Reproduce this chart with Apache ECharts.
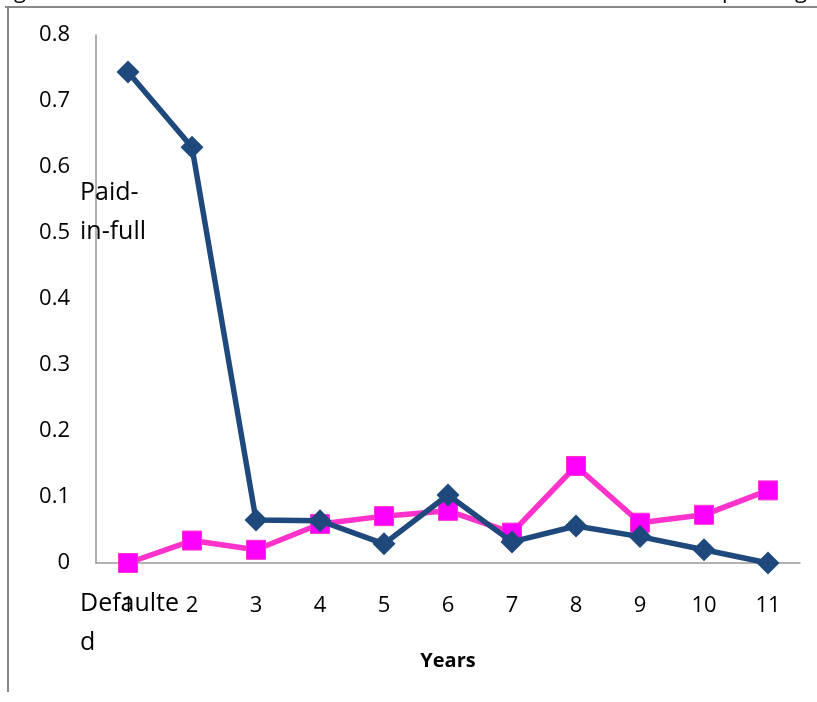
<!DOCTYPE html>
<html>
<head>
<meta charset="utf-8">
<script src="https://cdn.jsdelivr.net/npm/echarts@6/dist/echarts.min.js"></script>
<style>
html,body{margin:0;padding:0;background:#fff;}
#chart{width:817px;height:702px;}
</style>
</head>
<body>
<div id="chart"></div>
<script>
var years = ['1','2','3','4','5','6','7','8','9','10','11'];
var paidInFull = [0.744, 0.630, 0.065, 0.064, 0.029, 0.103, 0.032, 0.056, 0.040, 0.020, 0.0];
var defaulted = [0.0, 0.034, 0.020, 0.059, 0.071, 0.079, 0.046, 0.147, 0.061, 0.073, 0.110];
var yTicks = { min: 0, max: 0.8, interval: 0.1 };

var FONT = '"Open Sans", "Noto Sans", sans-serif';
var chart = echarts.init(document.getElementById('chart'));
chart.setOption({
  backgroundColor: '#fff',
  animation: false,
  grid: { left: 96, top: 35, width: 704, height: 528 },
  xAxis: {
    type: 'category',
    data: years,
    boundaryGap: true,
    name: 'Years',
    nameLocation: 'middle',
    nameGap: 88,
    nameTextStyle: { fontFamily: FONT, fontSize: 20, fontWeight: 'bold', color: '#000' },
    axisLine: { lineStyle: { color: '#999', width: 1.5 } },
    axisTick: { show: false },
    axisLabel: { margin: 32, fontFamily: FONT, fontSize: 22, color: '#000' },
    splitLine: { show: false }
  },
  yAxis: {
    type: 'value',
    min: yTicks.min, max: yTicks.max, interval: yTicks.interval,
    axisLine: { show: true, lineStyle: { color: '#999', width: 1.5 } },
    axisTick: { show: false },
    axisLabel: { margin: 26, fontFamily: FONT, fontSize: 22, color: '#000',
      formatter: function (v) { return v === 0 ? '0' : (+v.toFixed(1)).toString(); } },
    splitLine: { show: false }
  },
  series: [
    {
      name: 'Defaulted',
      type: 'line',
      data: defaulted,
      symbol: 'rect',
      symbolSize: 19,
      z: 2,
      lineStyle: { color: '#FF33CC', width: 5.5 },
      itemStyle: { color: '#FF00FF', borderColor: '#FF33CC', borderWidth: 1 }
    },
    {
      name: 'Paid-in-full',
      type: 'line',
      data: paidInFull,
      symbol: 'diamond',
      symbolSize: 23,
      z: 3,
      lineStyle: { color: '#1F497D', width: 5.5 },
      itemStyle: { color: '#1F497D' }
    }
  ],
  graphic: [
    { type: 'line', shape: { x1: 5, y1: 7, x2: 817, y2: 7 }, style: { stroke: '#888', lineWidth: 2 }, z: 10 },
    { type: 'line', shape: { x1: 8, y1: 7, x2: 8, y2: 692 }, style: { stroke: '#888', lineWidth: 2 }, z: 10 },
    { type: 'text', left: 14, top: -19, style: { text: 'g', font: '22px ' + FONT, fill: '#000' } },
    { type: 'text', left: 722, top: -19, style: { text: 'p', font: '22px ' + FONT, fill: '#000' } },
    { type: 'text', left: 795, top: -19, style: { text: 'g', font: '22px ' + FONT, fill: '#000' } },
    { type: 'text', x: 80, y: 193, style: { text: 'Paid-', font: '25px ' + FONT, fill: '#000', verticalAlign: 'middle' }, z: 20 },
    { type: 'text', x: 80, y: 232, style: { text: 'in-full', font: '25px ' + FONT, fill: '#000', verticalAlign: 'middle' }, z: 20 },
    { type: 'text', x: 80, y: 604, style: { text: 'Defaulte', font: '25px ' + FONT, fill: '#000', verticalAlign: 'middle' }, z: 20 },
    { type: 'text', x: 80, y: 643, style: { text: 'd', font: '25px ' + FONT, fill: '#000', verticalAlign: 'middle' }, z: 20 }
  ]
});
</script>
</body>
</html>
